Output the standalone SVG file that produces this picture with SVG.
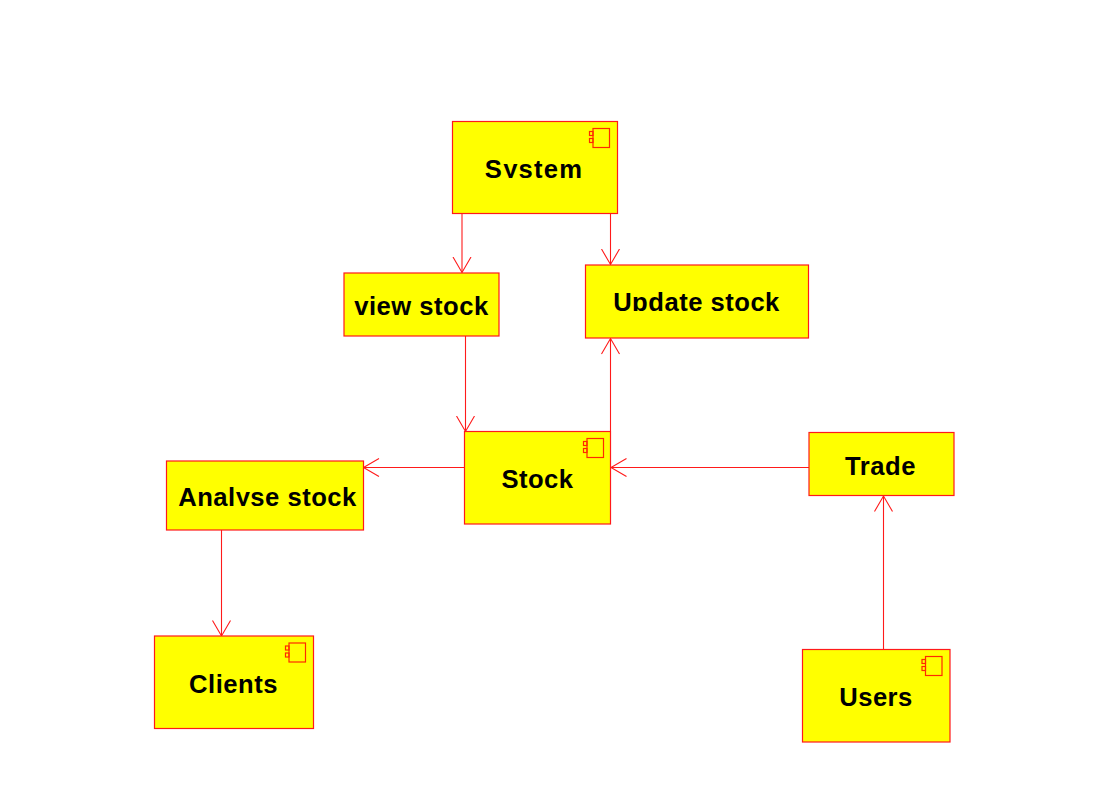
<svg xmlns="http://www.w3.org/2000/svg" width="1106" height="797" viewBox="0 0 1106 797">
<style>
.box{fill:#ffff00;stroke:#ff1a1a;stroke-width:1.2}
.ic{fill:none;stroke:#ff2a00;stroke-width:1.2}
.lbl{font-family:"Liberation Sans",Arial,sans-serif;font-weight:bold;font-size:25.600px;fill:#000;text-anchor:middle;letter-spacing:.5px}
.c{fill:none;stroke:#ff1a1a;stroke-width:1.100}
</style>
<defs>
<g id="icon"><rect class="ic" x="3.500" y="0" width="16.500" height="19"/><rect class="ic" x="0" y="3" width="3.500" height="4"/><rect class="ic" x="0" y="10" width="3.500" height="4"/></g>
<clipPath id="clipSystem"><rect x="452" y="122" width="165" height="56"/></clipPath>
<clipPath id="clipAnalyse"><rect x="167" y="461" width="196" height="45"/></clipPath>
<clipPath id="clipUpdate"><rect x="586" y="265" width="222" height="46"/></clipPath>
<marker id="a" viewBox="0 0 18 20" refX="16" refY="10" markerWidth="18" markerHeight="20" markerUnits="userSpaceOnUse" orient="auto"><path d="M0.500 1 L16 10 L0.500 19" fill="none" stroke="#ff1a1a" stroke-width="1.100"/></marker>
</defs>
<g id="connectors">
<path class="c" marker-end="url(#a)" d="M462 214V272.500"/>
<path class="c" marker-end="url(#a)" d="M610.500 214V264.500"/>
<path class="c" marker-end="url(#a)" d="M465.500 336V431.500"/>
<path class="c" marker-end="url(#a)" d="M610.500 431V338.500"/>
<path class="c" marker-end="url(#a)" d="M464.500 467.500H363.500"/>
<path class="c" marker-end="url(#a)" d="M809 467.500H611"/>
<path class="c" marker-end="url(#a)" d="M221.500 530V636"/>
<path class="c" marker-end="url(#a)" d="M883.500 649.500V496"/>
</g>
<g id="system"><rect class="box" x="452.500" y="121.500" width="165" height="92"/><use href="#icon" x="589.500" y="128.500"/><text class="lbl" x="534" y="178" style="letter-spacing:1.200px" clip-path="url(#clipSystem)">System</text></g>
<g id="view-stock"><rect class="box" x="344" y="273" width="155" height="63"/><text class="lbl" x="421.500" y="315">view stock</text></g>
<g id="update-stock"><rect class="box" x="585.500" y="265" width="223" height="73"/><text class="lbl" x="696.500" y="311" clip-path="url(#clipUpdate)">Update stock</text></g>
<g id="stock"><rect class="box" x="464.500" y="431.500" width="146" height="92.500"/><use href="#icon" x="583.500" y="438.500"/><text class="lbl" x="537.500" y="488">Stock</text></g>
<g id="trade"><rect class="box" x="809" y="432.500" width="145" height="63"/><text class="lbl" x="880.500" y="475">Trade</text></g>
<g id="analyse-stock"><rect class="box" x="166.500" y="461" width="197" height="69"/><text class="lbl" x="267.500" y="506" clip-path="url(#clipAnalyse)">Analyse stock</text></g>
<g id="clients"><rect class="box" x="154.500" y="636" width="159" height="92.500"/><use href="#icon" x="285.500" y="643"/><text class="lbl" x="233.500" y="693">Clients</text></g>
<g id="users"><rect class="box" x="802.500" y="649.500" width="147.500" height="92.500"/><use href="#icon" x="922" y="656.500"/><text class="lbl" x="876" y="706">Users</text></g>
</svg>
